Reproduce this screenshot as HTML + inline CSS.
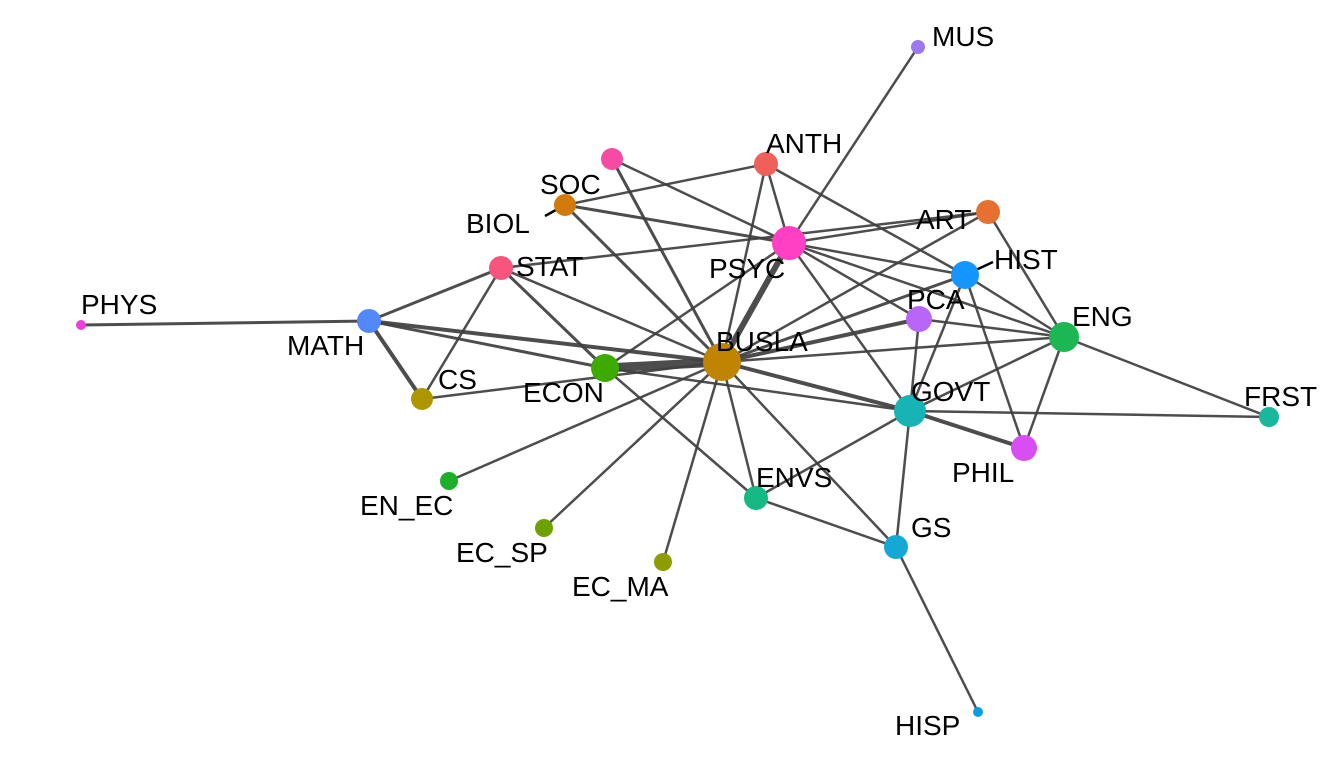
<!DOCTYPE html>
<html><head><meta charset="utf-8">
<style>
html,body{margin:0;padding:0;background:#fff;}
svg{display:block;}
text{font-family:"Liberation Sans",Arial,sans-serif;font-size:28px;fill:#000;}
</style></head>
<body>
<svg id="net" width="1344" height="768"></svg>
<script>
const nodeNames = ["MUS","ANTH","SOC","BIOL","ART","PSYC","HIST","STAT","PHYS","MATH","PCA","ENG","BUSLA","ECON","CS","GOVT","FRST","PHIL","EN_EC","ENVS","EC_SP","GS","EC_MA","HISP"];
const nodeX = [918,766,612,565,988,789,965,501,81,369,919,1064,722,605,422,910,1269,1024,449,756,544,896,663,978];
const nodeY = [47,164,159,205,212,243,275,268,325,321,319,337,362,368,399,411,417,448,481,498,528,547,562,712];
const nodeSize = [7,12,11,11,12,17,14,12,5,12,13,15,19,14,11,16,10,13,9,12,9,12,9,5];
const nodeColor = ["#9B78F0","#F0605A","#F74AA5","#D27B0C","#E6702F","#FF40C4","#1595FF","#F8557E","#EE3EDC","#5288FB","#B865F8","#1CB652","#C08400","#3DAA00","#AD9600","#17B3B5","#19B89C","#D84EF2","#1FAE2C","#16B983","#6CA100","#16A8D4","#8D9C00","#05A0E4"];
const labelText = ["MUS","ANTH","","BIOL","ART","PSYC","HIST","STAT","PHYS","MATH","PCA","ENG","BUSLA","ECON","CS","GOVT","FRST","PHIL","EN_EC","ENVS","EC_SP","GS","EC_MA","HISP"];
const labelDX = [14,0,0,-99,-72,-80,29,15,0,-82,-12,8,-6,-82,16,1,-25,-72,-89,0,-88,15,-91,-83];
const labelDY = [-1,-11,0,28,17,35,-6,8,-11,34,-10,-11,-11,34,-10,-10,-11,34,34,-11,34,-10,34,23];
const extraLabels = [["SOC",540,194]];
const edgeFrom = ["PHYS","MATH","MATH","MATH","MATH","STAT","STAT","STAT","STAT","ECON","ECON","ECON","ECON","BIOL","BIOL","BIOL","SOC","SOC","ANTH","ANTH","ANTH","MUS","PSYC","PSYC","PSYC","PSYC","PSYC","PSYC","ART","ART","HIST","HIST","HIST","HIST","PCA","PCA","PCA","ENG","ENG","ENG","ENG","GOVT","GOVT","GOVT","GOVT","GOVT","BUSLA","BUSLA","BUSLA","BUSLA","BUSLA","BUSLA","ENVS","GS"];
const edgeTo = ["MATH","STAT","CS","BUSLA","ECON","CS","ECON","BUSLA","ART","BUSLA","PSYC","GOVT","ENVS","ANTH","PSYC","BUSLA","PSYC","BUSLA","PSYC","BUSLA","HIST","PSYC","BUSLA","HIST","PCA","ENG","GOVT","ART","BUSLA","ENG","BUSLA","ENG","GOVT","PHIL","BUSLA","ENG","GOVT","BUSLA","GOVT","PHIL","FRST","BUSLA","FRST","PHIL","ENVS","GS","EN_EC","EC_SP","EC_MA","ENVS","GS","CS","GS","HISP"];
const edgeWeight = [3,3,4,4,3,2.5,3,2.5,2.5,9,2.5,2.5,2.5,2.5,3,3,2.5,3,2.5,2.5,2.5,2.5,6,2.5,2.5,2.5,2.5,2.5,2.5,2.5,3,2.5,2.5,2.5,4,2.5,2.5,2.5,2.5,2.5,2.5,4,2.5,4,2.5,2.5,2.5,2.5,2.5,2.5,2.5,2.5,2.5,2.5];

const NS="http://www.w3.org/2000/svg";
const svg=document.getElementById('net');
const idx=n=>nodeNames.indexOf(n);
const gE=document.createElementNS(NS,'g');


svg.appendChild(gE);
for(let i=0;i<edgeFrom.length;i++){
  const a=idx(edgeFrom[i]), b=idx(edgeTo[i]);
  const l=document.createElementNS(NS,'line');
  l.setAttribute('x1',nodeX[a]);l.setAttribute('y1',nodeY[a]);
  l.setAttribute('x2',nodeX[b]);l.setAttribute('y2',nodeY[b]);
  l.setAttribute('stroke','#404040');l.setAttribute('stroke-opacity','0.93');
  l.setAttribute('stroke-width',edgeWeight[i]);
  
  
  gE.appendChild(l);
}
[[3,545,216],[6,993,262]].forEach(d=>{
  const l=document.createElementNS(NS,'line');
  l.setAttribute('x1',nodeX[d[0]]);l.setAttribute('y1',nodeY[d[0]]);
  l.setAttribute('x2',d[1]);l.setAttribute('y2',d[2]);
  l.setAttribute('stroke','#000');l.setAttribute('stroke-width','2.5');
  
  
  svg.appendChild(l);
});
for(let i=0;i<nodeNames.length;i++){
  const c=document.createElementNS(NS,'circle');
  c.setAttribute('cx',nodeX[i]);c.setAttribute('cy',nodeY[i]);
  c.setAttribute('r',nodeSize[i]);c.setAttribute('fill',nodeColor[i]);
  
  
  svg.appendChild(c);
}
for(let i=0;i<nodeNames.length;i++){
  if(!labelText[i])continue;
  const t=document.createElementNS(NS,'text');
  t.setAttribute('x',nodeX[i]+labelDX[i]);t.setAttribute('y',nodeY[i]+labelDY[i]);
  t.textContent=labelText[i];
  
  
  svg.appendChild(t);
}
extraLabels.forEach(e=>{
  const t=document.createElementNS(NS,'text');
  t.setAttribute('x',e[1]);t.setAttribute('y',e[2]);t.textContent=e[0];
  
  
  svg.appendChild(t);
});
</script>
</body></html>
